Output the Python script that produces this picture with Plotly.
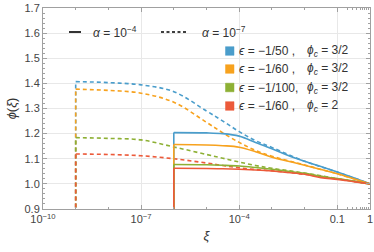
import numpy as np
import plotly.graph_objects as go

# ---- data ----
log_xi_dashed = [-9, -8, -7, -6, -5, -4.5, -4, -3.5, -3, -2, -1, 0]   # alpha = 1e-7
log_xi_solid = [-6, -5, -4.5, -4, -3.5, -3, -2.5, -2, -1.5, -1, -0.5, 0]  # alpha = 1e-4

phi_dashed_blue = [1.407, 1.403, 1.394, 1.367, 1.290, 1.250, 1.208, 1.172, 1.145, 1.090, 1.047, 1.0]
phi_dashed_orange = [1.377, 1.372, 1.361, 1.325, 1.245, 1.203, 1.165, 1.133, 1.110, 1.075, 1.040, 1.0]
phi_dashed_green = [1.184, 1.181, 1.175, 1.147, 1.117, 1.102, 1.087, 1.073, 1.062, 1.043, 1.021, 1.0]
phi_dashed_red = [1.119, 1.117, 1.112, 1.100, 1.083, 1.073, 1.064, 1.057, 1.052, 1.038, 1.020, 1.0]

phi_solid_blue = [1.204, 1.203, 1.200, 1.190, 1.165, 1.140, 1.113, 1.090, 1.069, 1.047, 1.024, 1.0]
phi_solid_orange = [1.157, 1.155, 1.152, 1.146, 1.128, 1.106, 1.090, 1.074, 1.057, 1.040, 1.020, 1.0]
phi_solid_green = [1.077, 1.076, 1.074, 1.071, 1.065, 1.058, 1.050, 1.042, 1.030, 1.021, 1.011, 1.0]
phi_solid_red = [1.062, 1.061, 1.060, 1.058, 1.055, 1.051, 1.045, 1.038, 1.025, 1.018, 1.009, 1.0]

phi_floor = 0.85  # the curves drop vertically to below the frame at their first xi

series_labels = ["−1/50 ,", "−1/60 ,", "−1/100,", "−1/60 ,"]
phic_labels = ["3/2", "3/2", "3/2", "2"]
colors = ["#4A9DCB", "#F7A21E", "#8DB034", "#EC5A3A"]

x_tickvals = [1e-10, 1e-7, 1e-4, 0.1, 1]
x_ticktext = ["10<sup>−10</sup>", "10<sup>−7</sup>", "10<sup>−4</sup>", "0.1", "1"]
x_minor = [1e-9, 1e-8, 1e-6, 1e-5, 1e-3, 1e-2, 0.2, 0.3, 0.4, 0.5, 0.6, 0.7, 0.8, 0.9]
y_tickvals = [0.9, 1.0, 1.1, 1.2, 1.3, 1.4, 1.5, 1.6, 1.7]
y_ticktext = ["0.9", "1.0", "1.1", "1.2", "1.3", "1.4", "1.5", "1.6", "1.7"]

dashed = [phi_dashed_blue, phi_dashed_orange, phi_dashed_green, phi_dashed_red]
solid = [phi_solid_blue, phi_solid_orange, phi_solid_green, phi_solid_red]

xd = 10 ** np.array(log_xi_dashed, dtype=float)
xs = 10 ** np.array(log_xi_solid, dtype=float)

fig = go.Figure()
DASH = "4px,3px"
LW = 1.6
for ys, c in zip(dashed, colors):
    fig.add_trace(go.Scatter(x=[xd[0], xd[0]], y=[phi_floor, ys[0]], mode="lines",
                             line=dict(color=c, width=LW, dash=DASH), showlegend=False))
    fig.add_trace(go.Scatter(x=xd, y=ys, mode="lines", line_shape="spline",
                             line=dict(color=c, width=LW, dash=DASH), showlegend=False))
for ys, c in zip(solid, colors):
    fig.add_trace(go.Scatter(x=[xs[0], xs[0]], y=[phi_floor, ys[0]], mode="lines",
                             line=dict(color=c, width=LW), showlegend=False))
    fig.add_trace(go.Scatter(x=xs, y=ys, mode="lines", line_shape="spline",
                             line=dict(color=c, width=LW), showlegend=False))

# ---- layout geometry (pixels) ----
W, H = 374, 252
L, R, T, B = 43, 4, 8, 43
pw, ph = W - L - R, H - T - B

def px(x):
    return (x - L) / pw

def py(y):
    return (H - B - y) / ph

font = "Liberation Sans, Arial, sans-serif"
frame = "#A0A0A0"
grid = "#E8E8E8"
tickfont = dict(family=font, size=11, color="#444444")

fig.update_layout(
    width=W, height=H,
    margin=dict(l=L, r=R, t=T, b=B, autoexpand=False),
    paper_bgcolor="white", plot_bgcolor="white",
    showlegend=False,
)
fig.update_xaxes(
    type="log", range=[-10, 0], automargin=False,
    tickvals=x_tickvals, ticktext=x_ticktext,
    ticks="inside", ticklen=4, tickcolor=frame, tickwidth=1,
    minor=dict(tickvals=x_minor, ticks="inside", ticklen=2, tickcolor=frame, showgrid=False),
    showline=True, linecolor=frame, linewidth=1, mirror="ticks",
    showgrid=True, gridcolor=grid, gridwidth=1,
    tickfont=tickfont, zeroline=False,
    title=dict(text="<i>ξ</i>", font=dict(family=font, size=13, color="#333333"), standoff=6),
)
fig.update_yaxes(
    range=[0.9, 1.7], automargin=False,
    tickvals=y_tickvals, ticktext=y_ticktext,
    ticks="inside", ticklen=4, tickcolor=frame, tickwidth=1,
    minor=dict(dtick=0.02, tick0=0.9, ticks="inside", ticklen=2, tickcolor=frame, showgrid=False),
    showline=True, linecolor=frame, linewidth=1, mirror="ticks",
    showgrid=True, gridcolor=grid, gridwidth=1,
    tickfont=tickfont, zeroline=False,
    title=dict(text="<i>ϕ</i>(<i>ξ</i>)", font=dict(family=font, size=13, color="#333333"), standoff=4),
)

# ---- line-style legend (top) ----
ly = 32
fig.add_shape(type="line", xref="paper", yref="paper", x0=px(69), x1=px(81), y0=py(ly), y1=py(ly),
              line=dict(color="black", width=1.6))
fig.add_shape(type="line", xref="paper", yref="paper", x0=px(161), x1=px(188), y0=py(ly), y1=py(ly),
              line=dict(color="black", width=1.6, dash="3px,2.5px"))
lfont = dict(family=font, size=12, color="#333333")
fig.add_annotation(xref="paper", yref="paper", x=px(91), y=py(ly), xanchor="left", yanchor="middle",
                   text="<i>α</i> = 10<sup>−4</sup>", showarrow=False, font=lfont)
fig.add_annotation(xref="paper", yref="paper", x=px(200), y=py(ly), xanchor="left", yanchor="middle",
                   text="<i>α</i> = 10<sup>−7</sup>", showarrow=False, font=lfont)

# ---- colour legend ----
rows = [51, 69, 87.5, 106]
for yrow, c, lab, pc in zip(rows, colors, series_labels, phic_labels):
    fig.add_shape(type="rect", xref="paper", yref="paper",
                  x0=px(225.5), x1=px(234), y0=py(yrow - 4.3), y1=py(yrow + 4.3),
                  fillcolor=c, line=dict(color=c, width=0.5))
    fig.add_annotation(xref="paper", yref="paper", x=px(237), y=py(yrow), xanchor="left", yanchor="middle",
                       text="<i>ϵ</i> = " + lab, showarrow=False, font=lfont)
    fig.add_annotation(xref="paper", yref="paper", x=px(305), y=py(yrow), xanchor="left", yanchor="middle",
                       text="<i>ϕ</i><sub><i>c</i></sub> = " + pc, showarrow=False, font=lfont)

fig.write_html("out.html", config={"displayModeBar": False},
               post_script="document.body.style.margin='0';")
